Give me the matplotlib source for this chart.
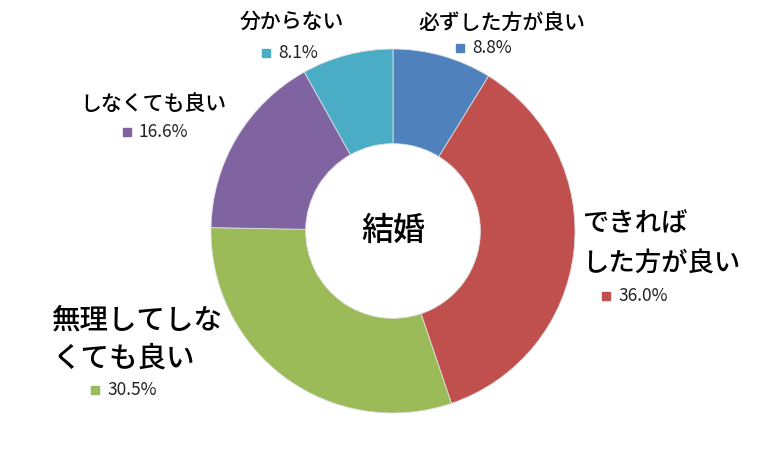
import matplotlib
matplotlib.use("Agg")
import matplotlib.pyplot as plt

plt.rcParams['font.family'] = ['Noto Sans CJK JP', 'DejaVu Sans']

# data, clockwise from 12 o'clock
labels = ["必ずした方が良い", "できれば\nした方が良い", "無理してしな\nくても良い", "しなくても良い", "分からない"]
values = [8.8, 36.0, 30.5, 16.6, 8.1]
colors = ["#4F81BD", "#C0504D", "#9BBB59", "#8064A2", "#4BACC6"]
center_title = "結婚"

W, H = 775, 467
cx, cy, R = 393, 231, 182

fig = plt.figure(figsize=(W / 100, H / 100), dpi=100)
ax = fig.add_axes([(cx - R) / W, (H - cy - R) / H, 2 * R / W, 2 * R / H])
ax.pie(values, colors=colors, startangle=90, counterclock=False, radius=1,
       wedgeprops=dict(width=0.52, edgecolor="#dddddd", linewidth=0.6))
ax.set_xlim(-1, 1)
ax.set_ylim(-1, 1)
ax.set_aspect("equal")
ax.axis("off")


def px(x, y):
    # pixel position -> data coords of the pie axes
    return (x - cx) / R, (cy - y) / R


# label layout in pixels: (name x, name y, name size, line gap, marker x, marker y)
layout = [
    (418, 24, 15, 0, 460, 48),
    (582, 224, 19, 39, 606, 296),
    (52, 320, 20.5, 38, 95, 390),
    (80, 104, 15, 0, 127, 132),
    (240, 22, 15, 0, 266, 53),
]

for lab, val, col, (lx, ly, fs, gap, mx, my) in zip(labels, values, colors, layout):
    for i, line in enumerate(lab.split("\n")):
        ax.text(*px(lx, ly + i * gap), line, fontsize=fs, ha="left", va="center",
                weight="medium", clip_on=False)
    ax.plot(*px(mx, my), marker="s", markersize=6, color=col, clip_on=False)
    ax.text(*px(mx + 12, my), f"{val:.1f}%", fontsize=12.5, ha="left", va="center",
            color="#222222", clip_on=False)

ax.text(0, 0, center_title, fontsize=23, ha="center", va="center", weight="medium")

fig.savefig("out.png", dpi=100, facecolor="white")
